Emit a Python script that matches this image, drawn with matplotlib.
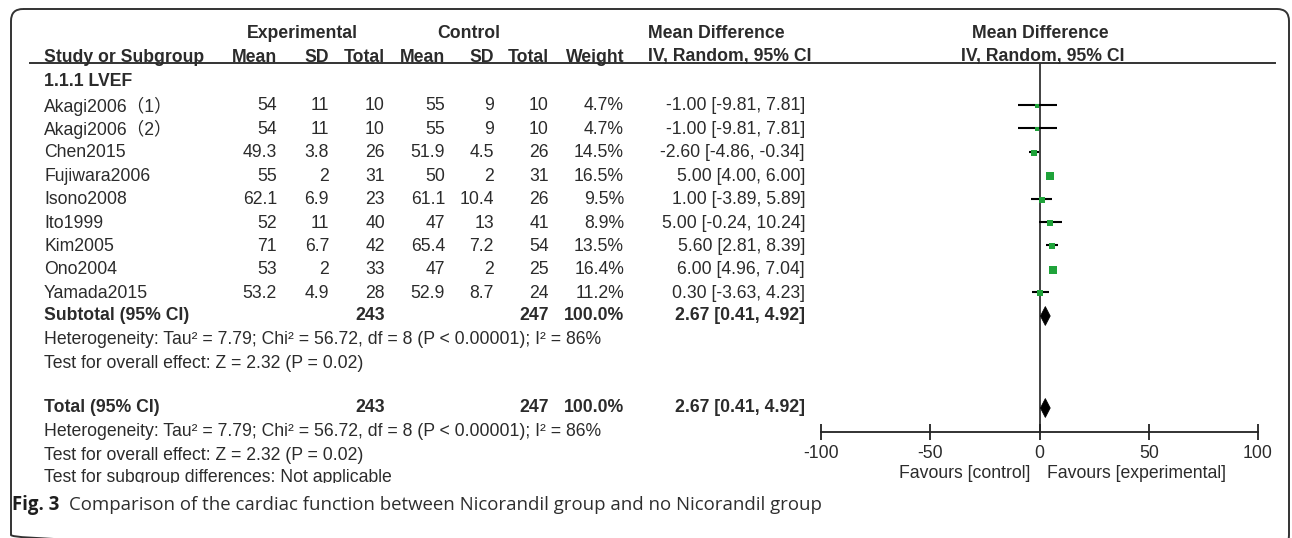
import matplotlib
matplotlib.use("Agg")
import matplotlib.pyplot as plt
from matplotlib.patches import FancyBboxPatch, Rectangle, Polygon

plt.rcParams['font.family'] = ['Liberation Sans', 'Noto Sans CJK SC', 'DejaVu Sans']

# study level data (LVEF)
studies = ["Akagi2006（1）", "Akagi2006（2）", "Chen2015", "Fujiwara2006", "Isono2008",
           "Ito1999", "Kim2005", "Ono2004", "Yamada2015"]
exp_mean = [54, 54, 49.3, 55, 62.1, 52, 71, 53, 53.2]
exp_sd = [11, 11, 3.8, 2, 6.9, 11, 6.7, 2, 4.9]
exp_n = [10, 10, 26, 31, 23, 40, 42, 33, 28]
ctl_mean = [55, 55, 51.9, 50, 61.1, 47, 65.4, 47, 52.9]
ctl_sd = [9, 9, 4.5, 2, 10.4, 13, 7.2, 2, 8.7]
ctl_n = [10, 10, 26, 31, 26, 41, 54, 25, 24]
weight = [4.7, 4.7, 14.5, 16.5, 9.5, 8.9, 13.5, 16.4, 11.2]
md = [-1.00, -1.00, -2.60, 5.00, 1.00, 5.00, 5.60, 6.00, 0.30]
ci_lo = [-9.81, -9.81, -4.86, 4.00, -3.89, -0.24, 2.81, 4.96, -3.63]
ci_hi = [7.81, 7.81, -0.34, 6.00, 5.89, 10.24, 8.39, 7.04, 4.23]

# pooled estimate
pooled_md, pooled_lo, pooled_hi = 2.67, 0.41, 4.92
exp_total, ctl_total, total_weight = 243, 247, 100.0
het_text = "Heterogeneity: Tau² = 7.79; Chi² = 56.72, df = 8 (P < 0.00001); I² = 86%"
z_text = "Test for overall effect: Z = 2.32 (P = 0.02)"
sub_text = "Test for subgroup differences: Not applicable"
x_ticks = [-100, -50, 0, 50, 100]

W, H = 1292, 538
fig = plt.figure(figsize=(W / 100, H / 100), dpi=100)

# page-level axes in pixel units for the table text
pg = fig.add_axes([0, 0, 1, 1])
pg.set_xlim(0, W)
pg.set_ylim(H, 0)
pg.axis('off')

tc = '#2b2b2b'
fs = 12.7

# rounded frame (bottom edge runs just off the page)
pg.add_patch(FancyBboxPatch((11, 9), 1278, 538, boxstyle="round,pad=0,rounding_size=12",
                            fc='none', ec='#333333', lw=1.4, clip_on=True))

row_y = [106 + 23.4 * i for i in range(len(studies))]
y_sub = 316
y_het1, y_z1 = 340, 363
y_tot = 408
y_het2, y_z2, y_sg = 432, 455, 478

def t(x, y, s, ha='left', bold=False, **kw):
    pg.text(x, y, s, ha=ha, va='center', fontsize=fs, color=tc,
            fontweight='bold' if bold else 'normal', **kw)

# headers
t(302, 33, "Experimental", ha='center', bold=True)
t(469, 33, "Control", ha='center', bold=True)
t(648, 33, "Mean Difference", bold=True)
t(1040, 33, "Mean Difference", ha='center', bold=True)
t(44, 57, "Study or Subgroup", bold=True)
for x, s in [(277, "Mean"), (329, "SD"), (385, "Total"), (445, "Mean"),
             (494, "SD"), (549, "Total"), (624, "Weight")]:
    t(x, 57, s, ha='right', bold=True)
t(648, 57, "IV, Random, 95% CI", bold=True)
t(1043, 57, "IV, Random, 95% CI", ha='center', bold=True)
pg.plot([30, 1275], [63, 63], color='#333333', lw=1.4)

t(44, 81, "1.1.1 LVEF", bold=True)

for i, y in enumerate(row_y):
    t(44, y, studies[i])
    t(277, y, f"{exp_mean[i]:g}", ha='right')
    t(329, y, f"{exp_sd[i]:g}", ha='right')
    t(385, y, f"{exp_n[i]}", ha='right')
    t(445, y, f"{ctl_mean[i]:g}", ha='right')
    t(494, y, f"{ctl_sd[i]:g}", ha='right')
    t(549, y, f"{ctl_n[i]}", ha='right')
    t(624, y, f"{weight[i]:.1f}%", ha='right')
    t(805, y, f"{md[i]:.2f} [{ci_lo[i]:.2f}, {ci_hi[i]:.2f}]", ha='right')

for y, label in [(y_sub, "Subtotal (95% CI)"), (y_tot, "Total (95% CI)")]:
    t(44, y, label, bold=True)
    t(385, y, f"{exp_total}", ha='right', bold=True)
    t(549, y, f"{ctl_total}", ha='right', bold=True)
    t(624, y, f"{total_weight:.1f}%", ha='right', bold=True)
    t(805, y, f"{pooled_md:.2f} [{pooled_lo:.2f}, {pooled_hi:.2f}]", ha='right', bold=True)

t(44, y_het1, het_text)
t(44, y_z1, z_text)
t(44, y_het2, het_text)
t(44, y_z2, z_text)
t(44, y_sg, sub_text)
# the last line is cut off at the bottom of the plot image
pg.add_patch(Rectangle((30, 483), 700, 8, fc='white', ec='none', zorder=5))

# caption
pg.text(12, 505, "Fig. 3", ha='left', va='center', fontsize=13.4, color='#1e1e1e',
        fontweight='bold', family='Open Sans')
pg.text(69, 505, "Comparison of the cardiac function between Nicorandil group and no Nicorandil group",
        ha='left', va='center', fontsize=13.4, color='#2e2e2e', family='Open Sans')

# forest plot axes: x = mean difference, y = table row (pixel rows)
x0, x1 = 821, 1258
ytop, ybot = 63, 432
ax = fig.add_axes([x0 / W, 1 - ybot / H, (x1 - x0) / W, (ybot - ytop) / H])
ax.set_xlim(-100, 100)
ax.set_ylim(ybot, ytop)
ax.patch.set_alpha(0)
for side in ['top', 'right', 'left']:
    ax.spines[side].set_visible(False)
ax.spines['bottom'].set_color('#222222')
ax.spines['bottom'].set_linewidth(1.3)
ax.set_yticks([])
ax.set_xticks(x_ticks)
ax.set_xticklabels([f"{v}" for v in x_ticks], fontsize=fs, color=tc)
ax.tick_params(axis='x', direction='inout', length=11, width=1.3, color='#222222', pad=4)
ax.axvline(0, color='#333333', lw=1.3, zorder=1)

for i, y in enumerate(row_y):
    ax.plot([ci_lo[i], ci_hi[i]], [y - 1, y - 1], color='black', lw=1.5, zorder=2,
            solid_capstyle='butt')
    ax.scatter(md[i], y, s=weight[i] * 1.55, marker='s', color='#1fa33a', zorder=3,
               linewidths=0)

for y in [y_sub, y_tot]:
    ax.add_patch(Polygon([(pooled_lo, y), (pooled_md, y - 9.5), (pooled_hi, y),
                          (pooled_md, y + 9.5)], closed=True, fc='black', ec='black',
                         lw=0.5, zorder=3))

tr = ax.get_xaxis_transform()
ax.text(-4.3, -0.112, "Favours [control]", transform=tr, ha='right', va='center',
        fontsize=fs, color=tc)
ax.text(3.6, -0.112, "Favours [experimental]", transform=tr, ha='left', va='center',
        fontsize=fs, color=tc)

fig.savefig("out.png", dpi=100)
